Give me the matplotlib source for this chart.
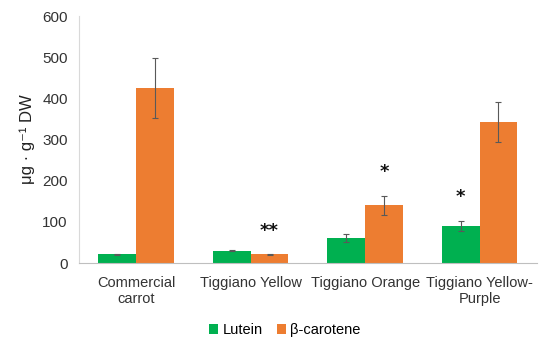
import matplotlib
matplotlib.use("Agg")
import matplotlib.pyplot as plt
import numpy as np

categories = ["Commercial\ncarrot", "Tiggiano Yellow", "Tiggiano Orange", "Tiggiano Yellow-\nPurple"]
lutein = [21, 30, 60, 90]
lutein_err = [2, 1, 10, 13]
beta = [425, 21, 140, 343]
beta_err = [73, 1, 23, 49]
# significance markers: (category index, series, label, y value)
markers = [(1, "beta", "**", 78), (2, "beta", "*", 221), (3, "lutein", "*", 161)]

plt.rcParams['font.family'] = ['Liberation Sans', 'DejaVu Sans']
fig = plt.figure(figsize=(5.5, 3.48), dpi=100)
ax = fig.add_axes([0.1436, 0.244, 0.8324, 0.71])

x = np.arange(len(categories))
w = 0.33
green = "#00B050"
orange = "#ED7D31"
ek = dict(ecolor="#595959", elinewidth=0.8, capsize=2.5, capthick=0.8)
ax.bar(x - w/2, lutein, w, yerr=lutein_err, color=green, label="Lutein", error_kw=ek)
ax.bar(x + w/2, beta, w, yerr=beta_err, color=orange, label="β-carotene", error_kw=ek)

for i, s, lab, yv in markers:
    xp = x[i] - w/2 if s == "lutein" else x[i] + w/2
    ax.text(xp, yv, lab, ha="center", va="center", fontsize=13, fontweight="bold",
            color="#111111", family="DejaVu Sans")

ax.set_xlim(-0.5, len(categories) - 0.5)
ax.set_ylim(0, 600)
ax.set_yticks(range(0, 601, 100))
ax.set_xticks(x)
ax.set_xticklabels(categories, fontsize=10.5, color="#333333", linespacing=1.25)
ax.tick_params(axis="y", labelsize=11, colors="#333333", length=0, pad=8)
ax.tick_params(axis="x", length=0, pad=9)
for sp in ["top", "right"]:
    ax.spines[sp].set_visible(False)
ax.spines["left"].set_color("#D9D9D9")
ax.spines["bottom"].set_color("#BFBFBF")
ax.set_ylabel("μg · g⁻¹ DW", fontsize=12, color="#222222", labelpad=5)

ax.legend(loc="upper center", bbox_to_anchor=(0.45, -0.19), ncol=2, frameon=False,
          fontsize=10.5, handlelength=0.6, handleheight=0.6, handletextpad=0.3, columnspacing=1.0)

fig.savefig("out.png", dpi=100)
